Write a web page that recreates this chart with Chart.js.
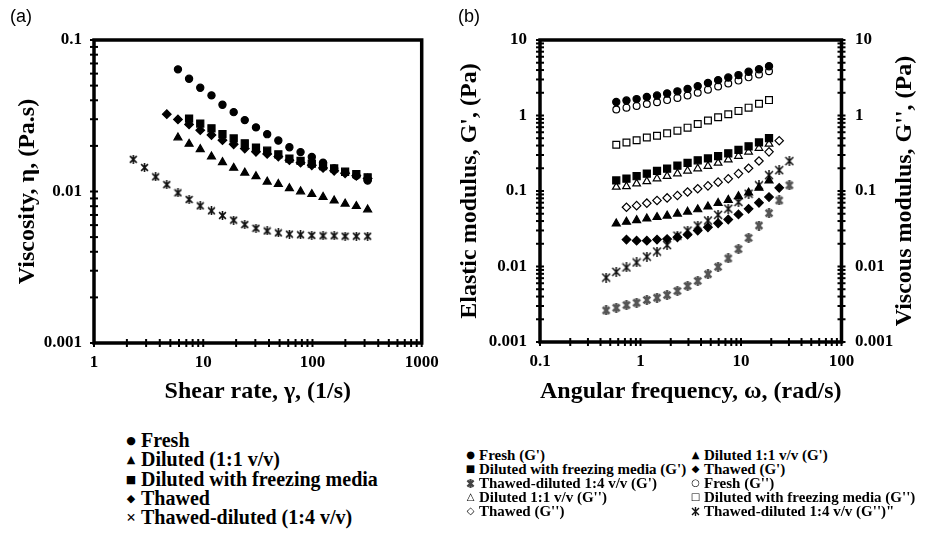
<!DOCTYPE html>
<html><head><meta charset="utf-8">
<script src="https://cdn.jsdelivr.net/npm/chart.js@4/dist/chart.umd.min.js"></script>
<style>
body{margin:0;width:930px;height:534px;background:#fff;overflow:hidden;position:relative;font-family:"Liberation Serif",serif;}
#ca{position:absolute;left:0;top:0;}
#cb{position:absolute;left:450px;top:0;}
.lab{position:absolute;font-family:"Liberation Sans",Arial,sans-serif;font-size:18px;color:#000;}
.leg{position:absolute;font-weight:bold;color:#000;white-space:nowrap;font-family:"Liberation Serif",serif;}
.row{display:flex;align-items:center;}
.sym{display:inline-flex;justify-content:center;align-items:center;font-family:"DejaVu Sans",sans-serif;font-weight:normal;}
</style></head><body>
<canvas id="ca" width="450" height="420"></canvas>
<canvas id="cb" width="480" height="420"></canvas>
<div class="lab" style="left:10px;top:6px">(a)</div>
<div class="lab" style="left:458px;top:6px">(b)</div>
<div id="legA" class="leg" style="left:121px;top:431px;font-size:20px;line-height:19.3px;"></div>
<div id="legB" class="leg" style="left:462px;top:448px;font-size:15px;line-height:14px;"></div>
<script>
// ---------- Panel (a): viscosity vs shear rate ----------
const shearRate = [2.29, 2.9, 3.67, 4.64, 5.87, 7.42, 9.39, 11.9, 15.0, 19.0, 24.0, 30.4, 38.5, 48.7, 61.5, 77.8, 98.6, 125, 158, 199, 252, 320];
const viscFresh = [null, null, null, null, 0.064, 0.0555, 0.0484, 0.0431, 0.0374, 0.0334, 0.0296, 0.0265, 0.0239, 0.0217, 0.0196, 0.0182, 0.0169, 0.0155, 0.0142, 0.0134, 0.0127, 0.0118];
const viscDiluted = [null, null, null, null, 0.0227, 0.0206, 0.019, 0.017, 0.0156, 0.0143, 0.0133, 0.0126, 0.0116, 0.0112, 0.0105, 0.01, 0.0096, 0.0092, 0.0087, 0.0083, 0.008, 0.0076];
const viscFreezing = [null, null, null, null, null, 0.0303, 0.0281, 0.0261, 0.0239, 0.0224, 0.0208, 0.0195, 0.0186, 0.0176, 0.0165, 0.0159, 0.0153, 0.0147, 0.0142, 0.0135, 0.013, 0.0124];
const viscThawed = [null, null, null, 0.0324, 0.0299, 0.0277, 0.0254, 0.0236, 0.0218, 0.0205, 0.0192, 0.0183, 0.0177, 0.017, 0.0161, 0.0155, 0.0149, 0.0143, 0.0137, 0.0132, 0.0127, 0.0122];
const viscThawDil = [0.0163, 0.0144, 0.0125, 0.0111, 0.0098, 0.00885, 0.00804, 0.00745, 0.00694, 0.00647, 0.00605, 0.00572, 0.00549, 0.00533, 0.00523, 0.00518, 0.00513, 0.0051, 0.0051, 0.00507, 0.00507, 0.00507];
const legendA = ["Fresh", "Diluted (1:1 v/v)", "Diluted with freezing media", "Thawed", "Thawed-diluted (1:4 v/v)"];
const shearTicks = [1, 10, 100, 1000];
const shearTickLabels = ["1", "10", "100", "1000"];
const viscTicks = [0.001, 0.01, 0.1];
const viscTickLabels = ["0.001", "0.01", "0.1"];

// ---------- Panel (b): moduli vs angular frequency ----------
const freq = [0.455, 0.574, 0.725, 0.915, 1.156, 1.46, 1.84, 2.33, 2.94, 3.71, 4.69, 5.92, 7.47, 9.44, 11.9, 15.1, 19.0, 24.0, 30.3];
const gpFresh = [null, 1.51, 1.58, 1.65, 1.76, 1.84, 1.96, 2.09, 2.25, 2.45, 2.7, 2.94, 3.18, 3.43, 3.8, 4.1, 4.5, null, null];
const gpDiluted = [null, 0.037, 0.039, 0.041, 0.043, 0.045, 0.047, 0.05, 0.053, 0.057, 0.062, 0.069, 0.076, 0.085, 0.095, 0.11, 0.137, null, null];
const gpFreezing = [null, 0.138, 0.146, 0.157, 0.17, 0.185, 0.198, 0.217, 0.236, 0.255, 0.27, 0.29, 0.315, 0.35, 0.39, 0.44, 0.5, null, null];
const gpThawed = [null, null, 0.0227, 0.022, 0.022, 0.0227, 0.0231, 0.0244, 0.0264, 0.0299, 0.0331, 0.0374, 0.0419, 0.0489, 0.0581, 0.0699, 0.0832, 0.11, null];
const gpThawDil = [0.00262, 0.00284, 0.00308, 0.00331, 0.0036, 0.00386, 0.00419, 0.00474, 0.00552, 0.00644, 0.00791, 0.0099, 0.0128, 0.017, 0.0239, 0.0349, 0.0509, 0.075, 0.119];
const gppFresh = [null, 1.2, 1.27, 1.34, 1.42, 1.5, 1.6, 1.71, 1.84, 2.0, 2.2, 2.42, 2.65, 2.9, 3.2, 3.5, 3.86, null, null];
const gppDiluted = [null, 0.113, 0.115, 0.125, 0.134, 0.146, 0.157, 0.17, 0.185, 0.198, 0.213, 0.235, 0.26, 0.29, 0.33, 0.37, 0.42, null, null];
const gppFreezing = [null, 0.41, 0.44, 0.47, 0.51, 0.54, 0.58, 0.63, 0.69, 0.77, 0.86, 0.95, 1.04, 1.15, 1.27, 1.43, 1.6, null, null];
const gppThawed = [null, null, 0.061, 0.064, 0.069, 0.075, 0.081, 0.087, 0.097, 0.107, 0.117, 0.131, 0.145, 0.17, 0.2, 0.25, 0.33, 0.464, null];
const gppThawDil = [0.00713, 0.00849, 0.0097, 0.0113, 0.0135, 0.0158, 0.0192, 0.0256, 0.0299, 0.0349, 0.0406, 0.0483, 0.0581, 0.0714, 0.092, 0.119, 0.162, 0.189, 0.249];
const legendB = ["Fresh (G')", "Diluted 1:1 v/v (G')", "Diluted with freezing media (G')", "Thawed (G')", "Thawed-diluted 1:4 v/v (G')", "Fresh (G'')", "Diluted 1:1 v/v (G'')", "Diluted with freezing media (G'')", "Thawed (G'')", "Thawed-diluted 1:4 v/v (G'')\""];
const freqTicks = [0.1, 1, 10, 100];
const freqTickLabels = ["0.1", "1", "10", "100"];
const modTicks = [0.001, 0.01, 0.1, 1, 10];
const modTickLabels = ["0.001", "0.01", "0.1", "1", "10"];

// ---------- helpers ----------
function pts(xs, ys) { return xs.map((x, i) => ys[i] == null ? null : {x: x, y: ys[i]}).filter(Boolean); }
function starCanvas(color, lw, size) {
  const c = document.createElement('canvas'); c.width = c.height = size;
  const g = c.getContext('2d'); g.strokeStyle = color; g.lineWidth = lw;
  const p = lw / 2 + 0.3, q = size - p, m = size / 2;
  g.beginPath(); g.moveTo(p, p); g.lineTo(q, q); g.moveTo(q, p); g.lineTo(p, q);
  g.moveTo(m, 0); g.lineTo(m, size); g.stroke();
  return c;
}
function logTickBuilder(majors) {
  return function (scale) {
    const vals = [];
    for (let i = 0; i < majors.length; i++) {
      vals.push(majors[i]);
      if (i < majors.length - 1) for (let m = 2; m <= 9; m++) vals.push(+(majors[i] * m).toPrecision(6));
    }
    scale.ticks = vals.map(v => ({value: v}));
  };
}
function logLabel(majors, labels) {
  return function (v) {
    for (let i = 0; i < majors.length; i++) if (Math.abs(majors[i] - v) / majors[i] < 1e-6) return labels[i];
    return '';
  };
}
const FONT = 'Liberation Serif';
const tickFont = {family: FONT, weight: 'bold', size: 17};
const titleFont = {family: FONT, weight: 'bold', size: 24};

const framePlugin = {
  id: 'frame',
  afterDraw(chart, args, opts) {
    const ctx = chart.ctx, a = chart.chartArea;
    ctx.save(); ctx.strokeStyle = '#000';
    ctx.lineWidth = 2;
    for (const ax of opts.axes) {
      const s = chart.scales[ax.id];
      for (const t of s.ticks) {
        const p = s.getPixelForValue(t.value);
        ctx.beginPath();
        if (ax.side === 'bottom') { ctx.moveTo(p, a.bottom - 4); ctx.lineTo(p, a.bottom + 4); }
        else if (ax.side === 'left') { ctx.moveTo(a.left - 4, p); ctx.lineTo(a.left + 4, p); }
        else { ctx.moveTo(a.right - 4, p); ctx.lineTo(a.right + 4, p); }
        ctx.stroke();
      }
    }
    ctx.lineWidth = 3.5;
    ctx.strokeRect(a.left, a.top, a.right - a.left, a.bottom - a.top);
    ctx.restore();
  }
};
const rightTitlePlugin = {
  id: 'rightTitle',
  afterDraw(chart, args, o) {
    if (!o.text) return;
    const ctx = chart.ctx, a = chart.chartArea;
    ctx.save(); ctx.font = 'bold 24px "' + FONT + '"'; ctx.fillStyle = '#000';
    ctx.textAlign = 'center'; ctx.textBaseline = 'middle';
    ctx.translate(o.x, (a.top + a.bottom) / 2); ctx.rotate(-Math.PI / 2);
    ctx.fillText(o.text, 0, 0); ctx.restore();
  }
};
Chart.register(framePlugin, rightTitlePlugin);

function logAxis(majors, labels, pad, extra) {
  return Object.assign({
    type: 'logarithmic', min: majors[0], max: majors[majors.length - 1],
    afterBuildTicks: logTickBuilder(majors),
    grid: {display: false, drawTicks: false},
    border: {display: false},
    ticks: {autoSkip: false, maxRotation: 0, minRotation: 0, color: '#000', font: tickFont, padding: pad,
            callback: logLabel(majors, labels)}
  }, extra);
}
function ds(label, data, style, radius, fill, yAxisID, border) {
  return {label, data, showLine: false, pointStyle: style, pointRadius: radius, pointHoverRadius: radius,
          pointBackgroundColor: fill, pointBorderColor: border || '#000', pointBorderWidth: 1.2,
          yAxisID: yAxisID || 'y'};
}

// ---------- Chart A ----------
const starA = starCanvas('#111', 1.6, 9);
new Chart(document.getElementById('ca'), {
  type: 'scatter',
  data: {datasets: [
    ds(legendA[0], pts(shearRate, viscFresh), 'circle', 3.6, '#000'),
    ds(legendA[1], pts(shearRate, viscDiluted), 'triangle', 4.6, '#000'),
    ds(legendA[2], pts(shearRate, viscFreezing), 'rect', 5, '#000'),
    ds(legendA[3], pts(shearRate, viscThawed), 'rectRot', 4.3, '#000'),
    ds(legendA[4], pts(shearRate, viscThawDil), starA, 4.5, '#000')
  ]},
  options: {
    responsive: false, animation: false, devicePixelRatio: 1,
    layout: {padding: {left: 0, right: 28.3, top: 40, bottom: 0}},
    plugins: {legend: {display: false}, tooltip: {enabled: false},
              frame: {axes: [{id: 'x', side: 'bottom'}, {id: 'y', side: 'left'}]}},
    scales: {
      x: logAxis(shearTicks, shearTickLabels, 9, {position: 'bottom',
        afterFit(s) { s.height = 77; },
        title: {display: true, text: 'Shear rate, γ, (1/s)', color: '#000', font: titleFont, padding: {top: 0, bottom: 14}}}),
      y: logAxis(viscTicks, viscTickLabels, 12, {position: 'left',
        afterFit(s) { s.width = 94; },
        title: {display: true, text: 'Viscosity, η, (Pa.s)', color: '#000', font: titleFont, padding: {top: 13.6, bottom: 0}}})
    }
  }
});

// ---------- Chart B ----------
const starGray = starCanvas('#555', 2.6, 10);
const starBlack = starCanvas('#111', 1.5, 10);
new Chart(document.getElementById('cb'), {
  type: 'scatter',
  data: {datasets: [
    ds(legendB[0], pts(freq, gpFresh), 'circle', 3.6, '#000'),
    ds(legendB[1], pts(freq, gpDiluted), 'triangle', 4.6, '#000'),
    ds(legendB[2], pts(freq, gpFreezing), 'rect', 5, '#000'),
    ds(legendB[3], pts(freq, gpThawed), 'rectRot', 4.3, '#000'),
    ds(legendB[4], pts(freq, gpThawDil), starGray, 5, '#555'),
    ds(legendB[5], pts(freq, gppFresh), 'circle', 3.4, '#fff', 'y2'),
    ds(legendB[6], pts(freq, gppDiluted), 'triangle', 4.4, '#fff', 'y2'),
    ds(legendB[7], pts(freq, gppFreezing), 'rect', 4.8, '#fff', 'y2'),
    ds(legendB[8], pts(freq, gppThawed), 'rectRot', 4.2, '#fff', 'y2'),
    ds(legendB[9], pts(freq, gppThawDil), starBlack, 5, '#000', 'y2')
  ]},
  options: {
    responsive: false, animation: false, devicePixelRatio: 1,
    layout: {padding: {left: 0, right: 0, top: 40, bottom: 0}},
    plugins: {legend: {display: false}, tooltip: {enabled: false},
              frame: {axes: [{id: 'x', side: 'bottom'}, {id: 'y', side: 'left'}, {id: 'y2', side: 'right'}]},
              rightTitle: {text: "Viscous modulus, G'', (Pa)", x: 455}},
    scales: {
      x: logAxis(freqTicks, freqTickLabels, 9, {position: 'bottom',
        afterFit(s) { s.height = 78; },
        title: {display: true, text: 'Angular frequency, ω, (rad/s)', color: '#000', font: titleFont, padding: {top: 0, bottom: 14}}}),
      y: logAxis(modTicks, modTickLabels, 13, {position: 'left',
        afterFit(s) { s.width = 90; },
        title: {display: true, text: "Elastic modulus, G', (Pa)", color: '#000', font: titleFont, padding: {top: 5.6, bottom: 0}}}),
      y2: logAxis(modTicks, modTickLabels, 13.5, {position: 'right',
        afterFit(s) { s.width = 88.5; }})
    }
  }
});

// ---------- HTML legends ----------
const symA = ['●', '▲', '■', '◆', '×'];
const legA = document.getElementById('legA');
legendA.forEach((t, i) => {
  const r = document.createElement('div'); r.className = 'row';
  const s = document.createElement('span'); s.className = 'sym';
  s.style.width = '20px'; s.style.fontSize = i === 4 ? '17px' : '11px';
  if (i === 4) { s.style.fontFamily = FONT; s.style.fontWeight = 'bold'; }
  s.textContent = symA[i];
  const tx = document.createElement('span'); tx.textContent = t;
  r.appendChild(s); r.appendChild(tx); legA.appendChild(r);
});
const symB = ['●', '▲', '■', '◆', 'STARG', '○', '△', '□', '◇', 'STARK'];
const legB = document.getElementById('legB');
const colX = [0, 225];
const order = [[0, 1], [2, 3], [4, 5], [6, 7], [8, 9]];
order.forEach((pair, rIdx) => {
  pair.forEach((idx, c) => {
    const r = document.createElement('div'); r.className = 'row';
    r.style.position = 'absolute'; r.style.left = colX[c] + 'px'; r.style.top = (rIdx * 14) + 'px';
    r.style.height = '14px';
    const s = document.createElement('span'); s.className = 'sym';
    s.style.width = '17px'; s.style.height = '14px'; s.style.fontSize = '10px';
    if (symB[idx] === 'STARG') s.appendChild(starCanvas('#444', 2.2, 9));
    else if (symB[idx] === 'STARK') s.appendChild(starCanvas('#111', 1.4, 9));
    else s.textContent = symB[idx];
    const tx = document.createElement('span'); tx.textContent = legendB[idx];
    r.appendChild(s); r.appendChild(tx); legB.appendChild(r);
  });
});
</script>
</body></html>
